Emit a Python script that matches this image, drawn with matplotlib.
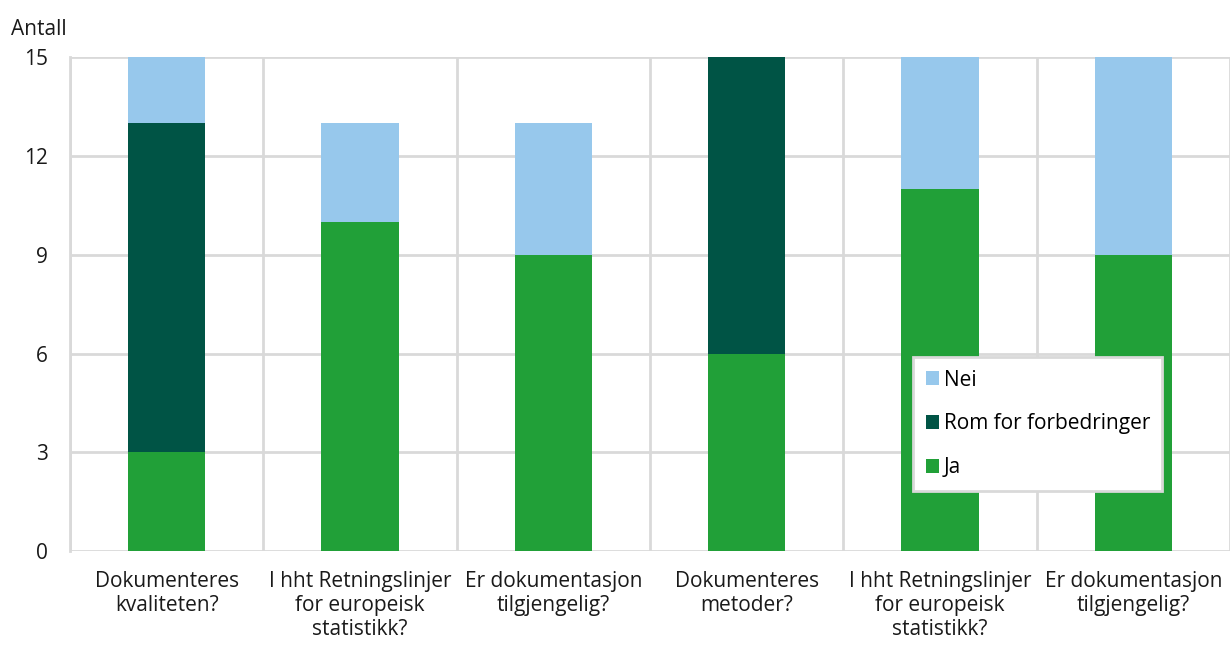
import matplotlib.pyplot as plt
import numpy as np

plt.rcParams['font.family'] = ['Open Sans', 'DejaVu Sans']

categories = ["Dokumenteres\nkvaliteten?",
              "I hht Retningslinjer\nfor europeisk\nstatistikk?",
              "Er dokumentasjon\ntilgjengelig?",
              "Dokumenteres\nmetoder?",
              "I hht Retningslinjer\nfor europeisk\nstatistikk?",
              "Er dokumentasjon\ntilgjengelig?"]
ja = [3, 10, 9, 6, 11, 9]
rom = [10, 0, 0, 9, 0, 0]
nei = [2, 3, 4, 0, 4, 6]

fig = plt.figure(figsize=(12.3, 6.5), dpi=100)
ax = fig.add_axes([0.057, 0.152, 0.943, 0.76])

ind = np.arange(len(categories))
width = 0.4
ja = np.array(ja)
rom = np.array(rom)
nei = np.array(nei)

ax.bar(ind, ja, width, color='#21A038', label='Ja', zorder=3)
ax.bar(ind, rom, width, bottom=ja, color='#005445', label='Rom for forbedringer', zorder=3)
ax.bar(ind, nei, width, bottom=ja + rom, color='#97C8EC', label='Nei', zorder=3)

ax.set_xlim(-0.5, len(categories) - 0.5)
ax.set_ylim(0, 15)
ax.set_yticks([0, 3, 6, 9, 12, 15])
ax.set_xticks(ind)
ax.set_xticklabels(categories, fontsize=15, color='#1a1a1a', linespacing=1.2)
ax.set_xticks(np.arange(len(categories) + 1) - 0.5, minor=True)
ax.tick_params(axis='y', labelsize=15, length=0, pad=16, colors='#1a1a1a')
ax.tick_params(axis='x', which='both', length=0, pad=14)

ax.grid(axis='y', which='major', color='#d9d9d9', linewidth=2, zorder=0)
ax.grid(axis='x', which='minor', color='#d9d9d9', linewidth=2, zorder=0)
for s in ['top', 'right', 'bottom']:
    ax.spines[s].set_visible(False)
ax.spines['left'].set_color('#d9d9d9')
ax.spines['left'].set_linewidth(2)

ax.text(-0.051, 1.035, 'Antall', transform=ax.transAxes, fontsize=15,
        ha='left', va='bottom', color='#1a1a1a')

h, l = ax.get_legend_handles_labels()
leg = ax.legend(h[::-1], l[::-1], loc='upper left', bbox_to_anchor=(0.727, 0.393),
                fontsize=15, frameon=True, fancybox=False, framealpha=1,
                handlelength=0.65, handleheight=0.65, handletextpad=0.2,
                labelspacing=1.1, borderpad=0.6, borderaxespad=0)
leg.get_frame().set_edgecolor('#d9d9d9')
leg.get_frame().set_linewidth(2)
leg.set_zorder(5)

plt.savefig('out.png', dpi=100)
